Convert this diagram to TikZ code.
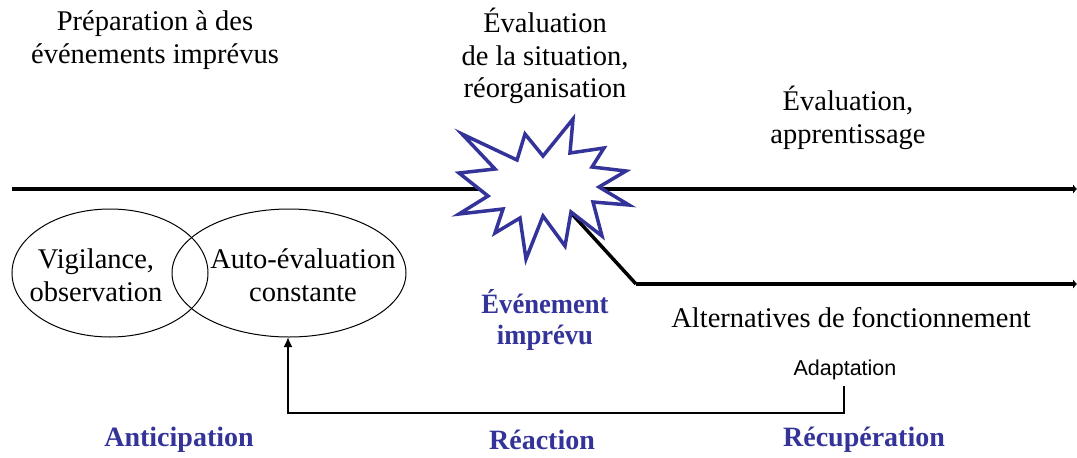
\documentclass[tikz,border=0pt]{standalone}
\usepackage{fontspec}
\setmainfont{Liberation Serif}
\newfontfamily\arialf{Liberation Sans}
\usetikzlibrary{arrows.meta}
\definecolor{starblue}{RGB}{51,51,153}
\tikzset{
  lbl/.style={font=\fontsize{28.5}{32.5}\selectfont, align=center, inner sep=0pt},
  phase/.style={font=\fontsize{28}{31}\selectfont\bfseries, text=starblue, align=center, inner sep=0pt},
  timeline/.style={line width=4.5pt, -{Latex[length=4pt,width=10pt]}},
  oval/.style={draw, line width=1pt},
  fb/.style={line width=2pt},
}
\begin{document}
\begin{tikzpicture}[x=1pt,y=-1pt]
\useasboundingbox (0,0) rectangle (1077,458);
% coordinates
\coordinate (L0) at (12,189);
\coordinate (L1) at (1077,189);
\coordinate (D0) at (572,214);
\coordinate (D1) at (636,284);
\coordinate (D2) at (1077,284);
% main timeline
\draw[timeline] (L0) -- (L1);
% alternative branch
\draw[line width=3.5pt, line join=miter] (D0) -- (D1);
\draw[timeline] (D1) -- (D2);
% star
\draw[starblue, line width=3.5pt, fill=white, line join=miter]
 (462,134) -- (517,160) -- (525,134) -- (543,156) -- (573,119) -- (570,153)
 -- (604,148) -- (592,167) -- (626,171) -- (599,187) -- (629,205) -- (593,202)
 -- (602,236) -- (571,212) -- (565,246) -- (543,216) -- (526,259) -- (520,218)
 -- (495,233) -- (503,209) -- (459,214) -- (488,196) -- (459,173) -- (495,169)
 -- cycle;
% ellipses
\draw[oval] (110,273) ellipse [x radius=98, y radius=64];
\draw[oval] (289,273) ellipse [x radius=117, y radius=64];
\node[lbl] (vig) at (96,275) {Vigilance,\\observation};
\node[lbl] (auto) at (303,275) {Auto-évaluation\\constante};
\coordinate (E) at (288,337);
% texts
\node[lbl] (prep) at (155,40) {Préparation à des\\événements imprévus};
\node[lbl] (evs) at (545,56) {Évaluation\\de la situation,\\réorganisation};
\node[lbl] (eva) at (848,118) {Évaluation,\\apprentissage};
\node[lbl] (alt) at (851,318) {Alternatives de fonctionnement};
\node[phase, xscale=0.95, transform shape] (evt) at (545,320) {Événement\\imprévu};
\node[font=\arialf\fontsize{21.5}{24}\selectfont, inner sep=0pt] (adap) at (845,370) {Adaptation};
\node[phase] (ant) at (179,440) {Anticipation};
\node[phase] (rea) at (542,440) {Réaction};
\node[phase] (rec) at (864,440) {Récupération};
% feedback arrow
\coordinate (F0) at (844,386);
\draw[fb, -{Latex[length=10pt,width=9pt]}] (F0) |- (288,413) -- (E);
\end{tikzpicture}
\end{document}
